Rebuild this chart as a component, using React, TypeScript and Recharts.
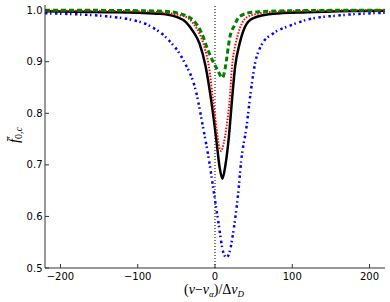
import { LineChart, Line, XAxis, YAxis, ReferenceLine } from 'recharts'

// x = (nu - nu_a)/dnu_D, v = f_{0,c}
const blackX = [-220, -180, -140, -100, -70, -50, -37, -28, -20, -12, -5, 1.8, 6, 9.6, 13, 18, 22, 26, 32, 38.6, 49, 75, 119, 160, 220]
const blackV = [0.998, 0.997, 0.996, 0.995, 0.993, 0.987, 0.976, 0.958, 0.935, 0.89, 0.826, 0.748, 0.695, 0.673, 0.695, 0.755, 0.826, 0.89, 0.936, 0.967, 0.984, 0.993, 0.996, 0.998, 0.999]

const redX = [-220, -100, -60, -45, -35, -27, -20, -13, -7.8, -2.6, 2, 5, 8, 11, 15, 19, 22, 26, 30, 35, 41, 55, 80, 120, 220]
const redV = [0.999, 0.998, 0.994, 0.99, 0.985, 0.972, 0.9545, 0.925, 0.89, 0.826, 0.77, 0.738, 0.727, 0.74, 0.775, 0.826, 0.89, 0.93, 0.9545, 0.975, 0.986, 0.993, 0.997, 0.999, 1.0]

const greenX = [-220, -100, -67, -45, -28, -17, -9, -2.5, 3, 9.6, 12, 15, 19, 25, 32, 49, 100, 220]
const greenV = [1.0, 0.999, 0.998, 0.993, 0.98, 0.9545, 0.922, 0.9, 0.885, 0.869, 0.878, 0.905, 0.946, 0.97, 0.988, 0.996, 0.999, 1.0]

const blueX = [-220, -180, -140, -110, -85, -60, -41, -24, -15.6, -7.8, -1.3, 5.2, 10.4, 15, 19, 24.7, 30, 34, 40.8, 46, 51.6, 60, 75, 97, 119, 162, 220]
const blueV = [0.994, 0.992, 0.988, 0.982, 0.97, 0.942, 0.903, 0.8385, 0.774, 0.7095, 0.645, 0.5805, 0.532, 0.52, 0.532, 0.5805, 0.645, 0.7095, 0.774, 0.8385, 0.895, 0.932, 0.9545, 0.97, 0.9815, 0.99, 0.995]

const xTicks = [-200, -100, 0, 100, 200]
const yTicks = [0.5, 0.6, 0.7, 0.8, 0.9, 1.0]

const zip = (xs: number[], vs: number[]) => xs.map((x, i) => ({ x, v: vs[i] }))

const blackData = zip(blackX, blackV)
const redData = zip(redX, redV)
const greenData = zip(greenX, greenV)
const blueData = zip(blueX, blueV)

const tickFont = { fontSize: 10, fontFamily: 'DejaVu Sans', fill: '#000' }
const spine = '#333'

const fmtX = (v: number) => (v < 0 ? '\u2212' + Math.abs(v) : String(v))

const BottomTick = ({ x, y, payload }: any) => (
  <g>
    <line x1={x} x2={x} y1={y} y2={y - 4} stroke={spine} />
    <text x={x} y={y + 11.5} textAnchor="middle" {...tickFont}>{fmtX(payload.value)}</text>
  </g>
)

const TopTick = ({ x, y }: any) => <line x1={x} x2={x} y1={y} y2={y + 4} stroke={spine} />

const LeftTick = ({ x, y, payload }: any) => (
  <g>
    <line x1={x} x2={x + 4} y1={y} y2={y} stroke={spine} />
    <text x={x - 2.5} y={y} dy="0.35em" textAnchor="end" {...tickFont}>{payload.value.toFixed(1)}</text>
  </g>
)

const RightTick = ({ x, y }: any) => <line x1={x} x2={x - 4} y1={y} y2={y} stroke={spine} />

const XLabel = () => (
  <text x={214} y={294} textAnchor="middle" fontFamily="Liberation Serif" fontSize={14} fill="#000">
    (<tspan fontStyle="italic">ν</tspan>−<tspan fontStyle="italic">ν</tspan>
    <tspan fontStyle="italic" fontSize={9} dy={3}>α</tspan>
    <tspan dy={-3}>)/Δ</tspan><tspan fontStyle="italic">ν</tspan>
    <tspan fontStyle="italic" fontSize={9} dy={3}>D</tspan>
  </text>
)

const YLabel = () => (
  <text transform="translate(19,135) rotate(-90)" textAnchor="middle" fontFamily="Liberation Serif" fontSize={15} fill="#000">
    <tspan fontStyle="italic">f̄</tspan>
    <tspan fontSize={10} dy={3}>0,</tspan><tspan fontSize={10} fontStyle="italic">c</tspan>
  </text>
)

export default function App() {
  return (
    <div style={{ position: 'absolute', left: 0, top: 0, width: 390, height: 302, background: '#fff' }}>
      <LineChart width={390} height={302} margin={{ top: 5, right: 5, bottom: 0, left: 0 }}>
        <XAxis
          dataKey="x"
          type="number"
          domain={[-220, 220]}
          ticks={xTicks}
          height={34}
          tickSize={0}
          tickMargin={0}
          tick={<BottomTick />}
          axisLine={{ stroke: spine }}
          label={<XLabel />}
          allowDataOverflow
        />
        <XAxis
          xAxisId="top"
          orientation="top"
          dataKey="x"
          type="number"
          domain={[-220, 220]}
          ticks={xTicks}
          height={0}
          tickSize={0}
          tickMargin={0}
          tick={<TopTick />}
          axisLine={{ stroke: spine }}
          allowDataOverflow
        />
        <YAxis
          type="number"
          domain={[0.5, 1.01]}
          ticks={yTicks}
          width={45}
          tickSize={0}
          tickMargin={0}
          tick={<LeftTick />}
          axisLine={{ stroke: spine }}
          label={<YLabel />}
          allowDataOverflow
        />
        <YAxis
          yAxisId="right"
          orientation="right"
          type="number"
          domain={[0.5, 1.01]}
          ticks={yTicks}
          width={0}
          tickSize={0}
          tickMargin={0}
          tick={<RightTick />}
          axisLine={{ stroke: spine }}
          allowDataOverflow
        />
        <ReferenceLine x={0} stroke="#000" strokeWidth={1} strokeDasharray="1 2" />
        <Line data={blueData} dataKey="v" type="monotone" stroke="#0000ff" strokeWidth={2.5} strokeDasharray="2.5 2.5 1.5 3.5" dot={false} isAnimationActive={false} />
        <Line data={blackData} dataKey="v" type="monotone" stroke="#000" strokeWidth={2.5} dot={false} isAnimationActive={false} />
        <Line data={redData} dataKey="v" type="monotone" stroke="#ff0000" strokeWidth={2} strokeDasharray="1.5 1.5" dot={false} isAnimationActive={false} />
        <Line data={greenData} dataKey="v" type="monotone" stroke="#008000" strokeWidth={3} strokeDasharray="5 3" dot={false} isAnimationActive={false} />
      </LineChart>
    </div>
  )
}
